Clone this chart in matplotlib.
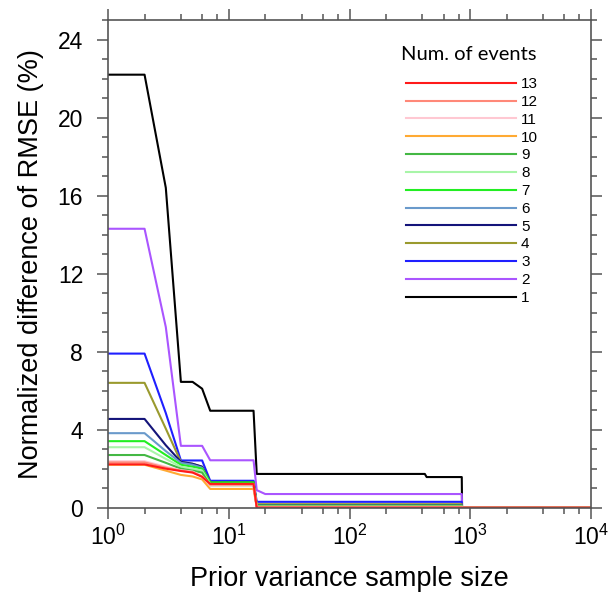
import matplotlib
matplotlib.use("Agg")
import matplotlib.pyplot as plt
from matplotlib.ticker import FixedLocator, MultipleLocator, NullFormatter

plt.rcParams['font.family'] = ['Liberation Sans', 'DejaVu Sans']

# Data
sample_size = [1, 2, 3, 4, 5, 6, 7, 16, 17, 20, 420, 435, 850, 855, 10000]

ev1 = [22.2, 22.2, 16.4, 6.45, 6.45, 6.1, 4.97, 4.97, 1.73, 1.73, 1.73, 1.57, 1.57, 0, 0]
ev2 = [14.3, 14.3, 9.26, 3.17, 3.17, 3.17, 2.43, 2.43, 0.9, 0.7, 0.7, 0.7, 0.7, 0, 0]
ev3 = [7.9, 7.9, 4.85, 2.42, 2.42, 2.42, 1.38, 1.38, 0.3, 0.3, 0.3, 0.3, 0.3, 0, 0]
ev4 = [6.4, 6.4, 4.05, 2.35, 2.25, 2.1, 1.3, 1.3, 0.18, 0.18, 0.18, 0.18, 0.18, 0, 0]
ev5 = [4.55, 4.55, 3.2, 2.35, 2.25, 2.1, 1.3, 1.3, 0.12, 0.12, 0.12, 0.12, 0.12, 0, 0]
ev6 = [3.82, 3.82, 2.9, 2.3, 2.2, 2.05, 1.25, 1.25, 0.1, 0.1, 0.1, 0.1, 0.1, 0, 0]
ev7 = [3.41, 3.41, 2.7, 2.2, 2.1, 2.0, 1.3, 1.3, 0.1, 0.1, 0.1, 0.1, 0.1, 0, 0]
ev8 = [3.1, 3.1, 2.5, 2.1, 2.0, 1.9, 1.2, 1.2, 0.08, 0.08, 0.08, 0.08, 0.08, 0, 0]
ev9 = [2.7, 2.7, 2.3, 2.0, 1.9, 1.8, 1.15, 1.15, 0.06, 0.06, 0.06, 0.06, 0.06, 0, 0]
ev10 = [2.2, 2.2, 1.9, 1.68, 1.6, 1.45, 0.96, 0.96, 0.04, 0.04, 0.04, 0.04, 0.04, 0, 0]
ev11 = [2.38, 2.38, 2.1, 1.92, 1.85, 1.62, 1.15, 1.15, 0.03, 0.03, 0.03, 0.03, 0.03, 0, 0]
ev12 = [2.32, 2.32, 2.05, 1.9, 1.82, 1.6, 1.18, 1.18, 0.02, 0.02, 0.02, 0.02, 0.02, 0, 0]
ev13 = [2.22, 2.22, 2.0, 1.88, 1.8, 1.58, 1.22, 1.22, 0, 0, 0, 0, 0, 0, 0]

series = [ev1, ev2, ev3, ev4, ev5, ev6, ev7, ev8, ev9, ev10, ev11, ev12, ev13]
labels = [str(i) for i in range(1, 14)]
colors = ['#000000', '#aa55ff', '#1f1fff', '#9a9a2e', '#14147a', '#6a9acb',
          '#22ee22', '#a8f5a8', '#44b844', '#ffaa33', '#ffc8d2', '#ff8878', '#ff1a1a']

fig = plt.figure(figsize=(6.08, 6.08), dpi=100)
ax = fig.add_axes([0.178, 0.165, 0.794, 0.802])

handles = []
for vals, lab, col in zip(series, labels, colors):
    h, = ax.plot(sample_size, vals, color=col, lw=1.5, label=lab)
    handles.append(h)

ax.set_xscale('log')
ax.set_xlim(1, 1e4)
ax.set_ylim(0, 25)
ax.xaxis.set_minor_locator(FixedLocator([m * 10**d for d in range(4) for m in (2, 4, 6, 8)]))
ax.xaxis.set_minor_formatter(NullFormatter())
ax.yaxis.set_major_locator(MultipleLocator(4))
ax.yaxis.set_minor_locator(MultipleLocator(1))

for s in ax.spines.values():
    s.set_color('#555555')
    s.set_linewidth(1.2)
ax.tick_params(which='both', direction='out', top=True, right=True, color='#555555', width=1.1)
ax.tick_params(which='major', length=8, labelsize=16.5, pad=4)
ax.tick_params(which='minor', length=4)
ax.tick_params(axis='y', which='major', pad=10)

ax.set_xlabel('Prior variance sample size', fontsize=19.5, labelpad=12)
ax.set_ylabel('Normalized difference of RMSE (%)', fontsize=19.5, labelpad=10)

leg = ax.legend(handles[::-1], labels[::-1], loc='upper left', bbox_to_anchor=(0.617, 0.883),
                frameon=False, fontsize=11, handlelength=7.2, handletextpad=0.33,
                labelspacing=0.25, borderpad=0, borderaxespad=0)
ax.text(0.606, 0.93, 'Num. of events', transform=ax.transAxes, ha='left', va='center',
        fontsize=14.5, family=['Lato', 'DejaVu Sans'])

fig.savefig('out.png', dpi=100)
